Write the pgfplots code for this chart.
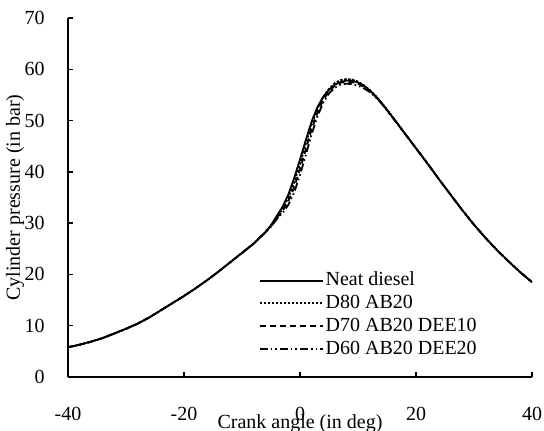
\documentclass[border=0pt]{standalone}
\usepackage{pgfplots}
\pgfplotsset{compat=1.18}
\usepackage{fontspec}
\setmainfont{Liberation Serif}
\begin{document}
\begin{tikzpicture}
\useasboundingbox (0,0) rectangle (272pt,215pt);
\begin{axis}[
  at={(34pt,26.5pt)}, anchor=south west,
  scale only axis, width=232pt, height=179.5pt,
  xmin=-40, xmax=40, ymin=0, ymax=70,
  axis lines*=left,
  axis line style={line width=0.7pt},
  tick style={line width=0.7pt, black},
  tick align=inside, major tick length=2.5pt,
  xtick={-40,-20,0,20,40}, ytick={0,10,20,30,40,50,60,70},
  font=\fontsize{10}{11.5}\selectfont,
  /pgf/number format/assume math mode=true,
  yticklabel style={xshift=-8.1pt},
  xticklabel style={yshift=-11.6pt},
  xlabel={Crank angle (in deg)},
  ylabel={Cylinder pressure (in bar)},
  xlabel style={at={(axis description cs:0.5,0)}, anchor=north, yshift=-15.3pt},
  ylabel style={at={(axis description cs:-0.1142,0.5)}, anchor=center},
  no markers,
  legend cell align=left,
  legend style={draw=none, fill=none, inner sep=0pt, at={(axis cs:-7.2,21.1)}, anchor=north west,
    nodes={text height=7.2pt, text depth=2pt, inner sep=1.1pt}, row sep=0pt},
  legend image code/.code={\draw[#1] (0pt,0pt) -- (31.5pt,0pt);},
  every axis plot/.append style={line width=0.9pt, black},
]
\addplot[black, solid] table {
x y
-40 5.8
-38 6.3
-36 6.9
-34 7.6
-32 8.5
-30 9.4
-28 10.4
-26 11.6
-24 13.0
-22 14.4
-20 15.8
-18 17.3
-16 18.9
-14 20.6
-12 22.4
-10 24.2
-8 26.0
-6 28.2
-5 29.6
-4 31.4
-3 33.2
-2 35.6
-1 38.8
0 42.4
1 46.2
2 49.8
3 52.6
4 54.6
5 56.0
6 57.0
7 57.5
8 57.8
9 57.8
10 57.4
11 56.8
12 55.9
13 54.8
14 53.5
16 50.6
18 47.6
20 44.6
22 41.6
24 38.5
26 35.5
28 32.5
30 29.7
32 27.1
34 24.7
36 22.5
38 20.4
40 18.5
};
\addlegendentry{Neat diesel}
\addplot[black, dash pattern=on 1.2pt off 0.8pt] table {
x y
-40 5.8
-38 6.3
-36 6.9
-34 7.6
-32 8.5
-30 9.4
-28 10.4
-26 11.6
-24 13.0
-22 14.4
-20 15.8
-18 17.3
-16 18.9
-14 20.6
-12 22.4
-10 24.2
-8 26.0
-6 28.2
-5 29.5
-4 31.2
-3 32.8
-2 35.0
-1 38.0
0 41.6
1 45.5
2 49.3
3 52.3
4 54.6
5 56.2
6 57.3
7 57.9
8 58.1
9 58.0
10 57.6
11 56.9
12 56.0
13 54.9
14 53.6
16 50.7
18 47.6
20 44.6
22 41.6
24 38.5
26 35.5
28 32.5
30 29.7
32 27.1
34 24.7
36 22.5
38 20.4
40 18.5
};
\addlegendentry{D80 AB20}
\addplot[black, dash pattern=on 3pt off 2pt] table {
x y
-40 5.8
-38 6.3
-36 6.9
-34 7.6
-32 8.5
-30 9.4
-28 10.4
-26 11.6
-24 13.0
-22 14.4
-20 15.8
-18 17.3
-16 18.9
-14 20.6
-12 22.4
-10 24.2
-8 26.0
-6 28.2
-5 29.4
-4 31.0
-3 32.4
-2 34.3
-1 37.0
0 40.5
1 44.4
2 48.3
3 51.5
4 54.0
5 55.7
6 56.8
7 57.4
8 57.6
9 57.5
10 57.2
11 56.6
12 55.8
13 54.7
14 53.5
16 50.6
18 47.6
20 44.6
22 41.6
24 38.5
26 35.5
28 32.5
30 29.7
32 27.1
34 24.7
36 22.5
38 20.4
40 18.5
};
\addlegendentry{D70 AB20 DEE10}
\addplot[black, dash pattern=on 4pt off 1.5pt on 0.8pt off 1.5pt on 0.8pt off 1.5pt] table {
x y
-40 5.8
-38 6.3
-36 6.9
-34 7.6
-32 8.5
-30 9.4
-28 10.4
-26 11.6
-24 13.0
-22 14.4
-20 15.8
-18 17.3
-16 18.9
-14 20.6
-12 22.4
-10 24.2
-8 26.0
-6 28.2
-5 29.3
-4 30.8
-3 32.0
-2 33.6
-1 36.0
0 39.4
1 43.3
2 47.3
3 50.8
4 53.5
5 55.3
6 56.4
7 57.0
8 57.2
9 57.1
10 56.8
11 56.3
12 55.6
13 54.6
14 53.4
16 50.5
18 47.6
20 44.6
22 41.6
24 38.5
26 35.5
28 32.5
30 29.7
32 27.1
34 24.7
36 22.5
38 20.4
40 18.5
};
\addlegendentry{D60 AB20 DEE20}
\end{axis}
\end{tikzpicture}
\end{document}
